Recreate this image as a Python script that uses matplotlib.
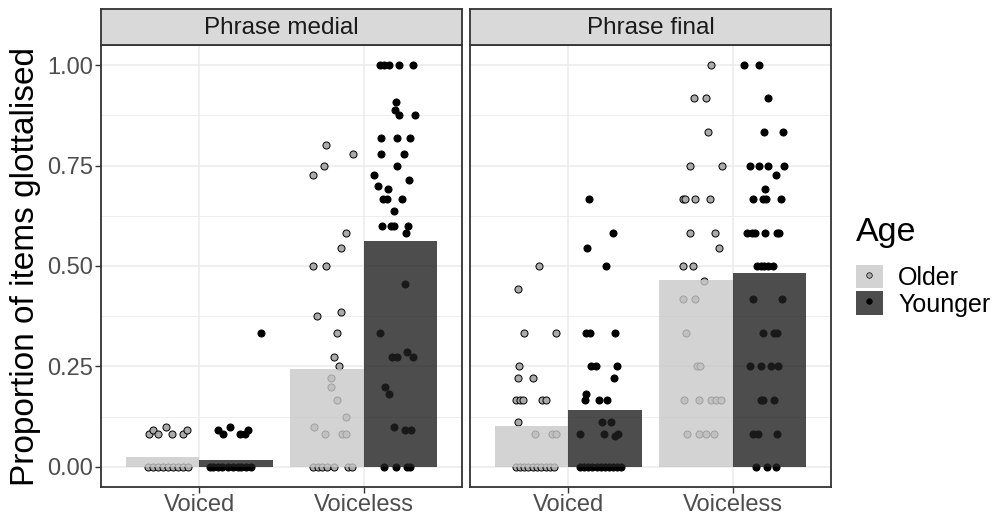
import numpy as np
import matplotlib
matplotlib.use("Agg")
import matplotlib.pyplot as plt
from matplotlib.patches import Patch
from matplotlib.lines import Line2D

plt.rcParams['font.family'] = ['Liberation Sans', 'DejaVu Sans']

categories = ['Voiced', 'Voiceless']
panels = ['Phrase medial', 'Phrase final']
ages = ['Older', 'Younger']

# bar heights (mean proportion), per panel: [Voiced, Voiceless]
mean_older = {'Phrase medial': [0.024, 0.243], 'Phrase final': [0.101, 0.465]}
mean_younger = {'Phrase medial': [0.016, 0.562], 'Phrase final': [0.141, 0.482]}

# individual speaker/item proportions with their jitter offsets
med_voiced_older_y = [0.083, 0.091, 0.083, 0.1, 0.083, 0.083, 0.091] + [0] * 9
med_voiced_older_dx = [-0.08, -0.056, -0.026, 0.021, 0.056, 0.127, 0.151,
                       -0.088, -0.058, -0.027, 0.003, 0.034, 0.064, 0.094, 0.125, 0.155]
med_voiced_younger_y = [0.091, 0.083, 0.1, 0.083, 0.083, 0.091, 0.333] + [0] * 10
med_voiced_younger_dx = [-0.11, -0.08, -0.04, 0.022, 0.052, 0.073, 0.15,
                         -0.16, -0.14, -0.11, -0.09, -0.05, -0.02, 0.01, 0.03, 0.06, 0.09]
med_voiceless_older_y = [0.8, 0.778, 0.75, 0.727, 0.583, 0.545, 0.5, 0.5, 0.375, 0.385,
                         0.333, 0.273, 0.25, 0.222, 0.2, 0.167, 0.125, 0.1, 0.083, 0.083,
                         0.083] + [0] * 7
med_voiceless_older_dx = [-0.005, 0.159, -0.018, -0.081, 0.116, 0.09, -0.081, -0.004, -0.06,
                          0.086, 0.062, 0.047, 0.074, 0.027, 0.027, 0.063, 0.118, -0.079,
                          -0.012, 0.092, 0.118,
                          -0.083, -0.052, -0.028, 0.002, 0.045, 0.13, 0.157]
med_voiceless_younger_y = [1, 1, 1, 1, 1, 0.909, 0.889, 0.875, 0.875, 0.818, 0.818, 0.818,
                           0.778, 0.778, 0.75, 0.727, 0.714, 0.7, 0.692, 0.667, 0.667, 0.667,
                           0.636, 0.6, 0.6, 0.6, 0.6, 0.583, 0.455, 0.333, 0.286, 0.273,
                           0.273, 0.273, 0.2, 0.182, 0.1, 0.091, 0.091, 0, 0, 0, 0]
med_voiceless_younger_dx = [-0.125, -0.1, -0.068, -0.009, 0.078, -0.029, -0.035, -0.009, 0.087,
                            -0.121, -0.023, 0.06, -0.121, 0.02, -0.023, -0.16, 0.054, -0.139,
                            -0.074, -0.105, -0.084, 0.009, -0.04, -0.115, -0.06, -0.04, 0.044,
                            0.035, 0.027, -0.123, 0.038, -0.054, -0.02, 0.074, -0.094, -0.068,
                            -0.04, 0.026, 0.066, -0.1, -0.029, 0.038, 0.058]

fin_voiced_older_y = [0.5, 0.444, 0.333, 0.333, 0.25, 0.222, 0.222, 0.167, 0.167, 0.167,
                      0.167, 0.167, 0.111, 0.083, 0.083, 0.083] + [0] * 10
fin_voiced_older_dx = [0.046, -0.084, -0.044, 0.147, -0.078, -0.084, 0.009, -0.096, -0.072,
                       -0.05, 0.062, 0.087, -0.084, 0.02, 0.127, 0.147,
                       -0.094, -0.07, -0.046, -0.021, 0.009, 0.034, 0.058, 0.088, 0.113, 0.137]
fin_voiced_younger_y = [0.667, 0.583, 0.545, 0.5, 0.333, 0.333, 0.333, 0.25, 0.25, 0.25,
                        0.222, 0.182, 0.167, 0.167, 0.167, 0.111, 0.111, 0.083, 0.083,
                        0.077, 0.083] + [0] * 11
fin_voiced_younger_dx = [-0.1, 0.046, -0.112, 0.005, -0.116, -0.096, 0.059, -0.088, -0.055,
                         0.073, 0.054, -0.116, -0.126, -0.039, 0.012, -0.019, 0.032, -0.155,
                         -0.009, 0.057, 0.079,
                         -0.155, -0.13, -0.106, -0.082, -0.051, -0.027, -0.002, 0.022, 0.046,
                         0.071, 0.095]
fin_voiceless_older_y = [1, 0.917, 0.917, 0.833, 0.75, 0.75, 0.667, 0.667, 0.667, 0.667,
                         0.583, 0.583, 0.545, 0.5, 0.5, 0.462, 0.417, 0.417, 0.333, 0.25,
                         0.25, 0.167, 0.167, 0.167, 0.167, 0.167, 0.083, 0.083, 0.083, 0.083]
fin_voiceless_older_dx = [0.092, -0.01, 0.065, 0.074, -0.032, 0.161, -0.075, -0.065, -0.002,
                          0.088, -0.032, 0.12, 0.143, -0.079, -0.014, 0.051, -0.077, -0.004,
                          -0.059, 0.007, 0.027, -0.069, 0.019, 0.092, 0.124, 0.157, -0.051,
                          0.019, 0.065, 0.112]
fin_voiceless_younger_y = [1, 1, 0.917, 0.833, 0.833, 0.75, 0.75, 0.75, 0.75, 0.727, 0.692,
                           0.667, 0.667, 0.667, 0.667, 0.583, 0.583, 0.583, 0.583, 0.583,
                           0.583, 0.5, 0.5, 0.5, 0.5, 0.5, 0.417, 0.417, 0.333, 0.333, 0.333,
                           0.25, 0.25, 0.25, 0.25, 0.167, 0.167, 0.167, 0.083, 0.083, 0.083,
                           0, 0, 0]
fin_voiceless_younger_dx = [-0.157, -0.064, -0.009, -0.034, 0.08, -0.119, -0.062, -0.007, 0.088,
                            0.04, -0.026, -0.099, -0.038, -0.021, 0.068, -0.139, -0.108, -0.088,
                            -0.027, 0.044, 0.06, -0.074, -0.054, -0.034, -0.007, 0.023, -0.101,
                            0.078, -0.04, 0.027, 0.044, -0.119, -0.05, 0.009, 0.054, -0.05,
                            -0.038, 0.027, -0.099, -0.068, 0.046, -0.08, -0.017, 0.038]

points = {
    ('Phrase medial', 'Older'): [(med_voiced_older_y, med_voiced_older_dx),
                                 (med_voiceless_older_y, med_voiceless_older_dx)],
    ('Phrase medial', 'Younger'): [(med_voiced_younger_y, med_voiced_younger_dx),
                                   (med_voiceless_younger_y, med_voiceless_younger_dx)],
    ('Phrase final', 'Older'): [(fin_voiced_older_y, fin_voiced_older_dx),
                                (fin_voiceless_older_y, fin_voiceless_older_dx)],
    ('Phrase final', 'Younger'): [(fin_voiced_younger_y, fin_voiced_younger_dx),
                                  (fin_voiceless_younger_y, fin_voiceless_younger_dx)],
}

bar_col = {'Older': '#c8c8c8', 'Younger': '#202020'}
pt_col = {'Older': '#aaaaaa', 'Younger': 'black'}
dodge = {'Older': -0.225, 'Younger': 0.225}

fig = plt.figure(figsize=(9.94, 5.17), dpi=100)
W, H = 994, 517
panel_px = [(101, 462), (470, 831)]
top_px, bot_px, strip_top = 45, 487, 9

for i, panel in enumerate(panels):
    x0, x1 = panel_px[i]
    ax = fig.add_axes([x0 / W, 1 - bot_px / H, (x1 - x0) / W, (bot_px - top_px) / H])
    sax = fig.add_axes([x0 / W, 1 - top_px / H, (x1 - x0) / W, (top_px - strip_top) / H])
    sax.set_facecolor('#d9d9d9')
    sax.set_xticks([]); sax.set_yticks([])
    for s in sax.spines.values():
        s.set_color('#333333'); s.set_linewidth(1.3)
    sax.text(0.5, 0.47, panel, ha='center', va='center', fontsize=17.5, color='#1a1a1a',
             transform=sax.transAxes)

    xpos = np.arange(1, len(categories) + 1)
    for age in ages:
        for j, (ys, dxs) in enumerate(points[(panel, age)]):
            ax.scatter(xpos[j] + dodge[age] + np.array(dxs), ys, s=26, c=pt_col[age],
                       edgecolors='black', linewidths=0.7, zorder=2)
        ax.bar(xpos + dodge[age], (mean_older if age == 'Older' else mean_younger)[panel],
               width=0.45, color=bar_col[age], alpha=0.8, zorder=3, linewidth=0)

    ax.set_xlim(0.4, 2.6)
    ax.set_ylim(-0.05, 1.05)
    ax.set_xticks(xpos)
    ax.set_xticklabels(categories)
    ax.set_yticks([0, 0.25, 0.5, 0.75, 1.0])
    ax.set_yticks([0.125, 0.375, 0.625, 0.875], minor=True)
    ax.grid(True, which='major', color='#ebebeb', linewidth=1.1, zorder=0)
    ax.grid(True, which='minor', axis='y', color='#ebebeb', linewidth=0.6, zorder=0)
    ax.set_axisbelow(True)
    ax.tick_params(axis='both', which='major', length=4, color='#333333', width=1,
                   labelsize=17, labelcolor='#4d4d4d', pad=2)
    ax.tick_params(axis='x', which='major', pad=1)
    ax.tick_params(axis='y', which='minor', length=0)
    for s in ax.spines.values():
        s.set_color('#333333'); s.set_linewidth(1.3)
    if i == 0:
        ax.set_yticklabels(['0.00', '0.25', '0.50', '0.75', '1.00'])
        ax.set_ylabel('Proportion of items glottalised', fontsize=24, labelpad=4)
    else:
        ax.tick_params(axis='y', which='major', left=False, labelleft=False)

handles = [(Patch(facecolor=bar_col[a], alpha=0.8, linewidth=0),
            Line2D([], [], marker='o', linestyle='', markersize=4, markerfacecolor=pt_col[a],
                   markeredgecolor='black', markeredgewidth=0.5)) for a in ages]
leg = fig.legend(handles, ages, title='Age', loc='upper left', bbox_to_anchor=(0.861, 0.580),
                 frameon=False, fontsize=18, title_fontsize=24.5, handlelength=1.08,
                 handleheight=1.08, labelspacing=0.04, handletextpad=0.62, alignment='left',
                 borderaxespad=0, borderpad=0)
leg._legend_box.sep = 12

fig.savefig('out.png', dpi=100)
